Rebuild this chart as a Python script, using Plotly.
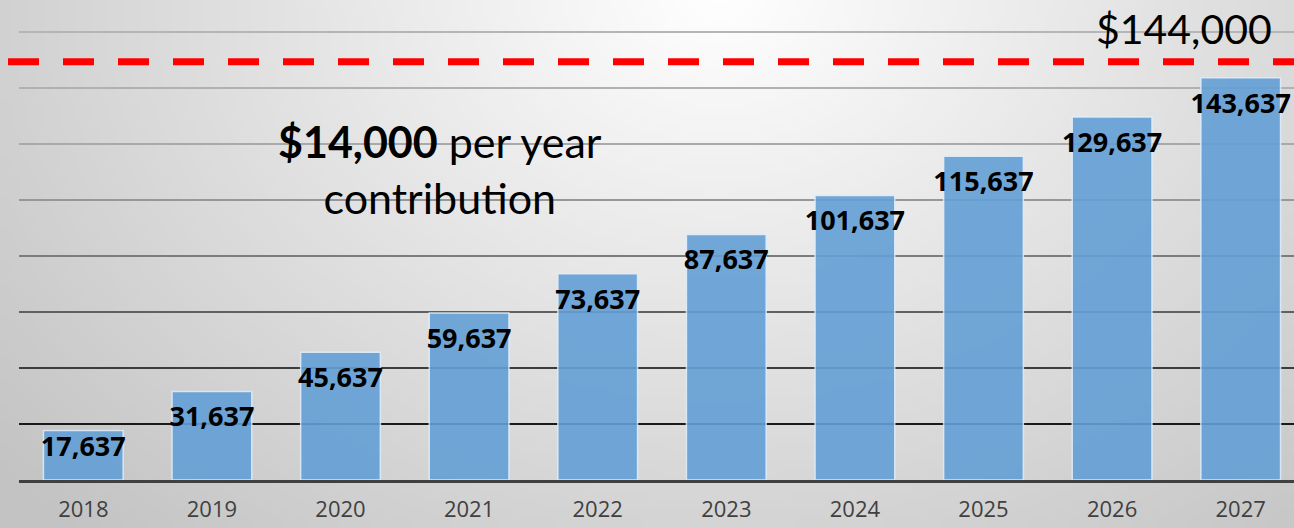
import base64
import math
import struct
import zlib

import plotly.graph_objects as go

# ---------------- data ----------------
years = ["2018", "2019", "2020", "2021", "2022", "2023", "2024", "2025", "2026", "2027"]
balances = [17637, 31637, 45637, 59637, 73637, 87637, 101637, 115637, 129637, 143637]
grid_values = [20000, 40000, 60000, 80000, 100000, 120000, 140000, 160000]
grid_colors = ["#1a1a1a", "#3c3c3c", "#606060", "#7c7c7c", "#979797", "#a9a9a9", "#b1b1b1", "#b5b5b5"]
target_text = "$144,000"
target_line_level = 149400  # where the dashed target line is drawn in the picture
note_text = "<b>$14,000</b> per year<br>contribution"

W, H = 1294, 528
ML, MB = 19, 48
plot_w, plot_h = W - ML, H - MB
y_max = 171429
cat_px = 128.6
x_range = [-0.5, -0.5 + plot_w / cat_px]


# ---------------- background gradient image (radial, light at top centre) ----------------
def gradient_png(w, h, scale):
    rows = bytearray()
    cx, cy = 720.0, 0.0
    for j in range(h):
        rows.append(0)
        for i in range(w):
            x = i * scale + scale / 2
            y = j * scale + scale / 2
            d = math.sqrt((41 * (x - cx) / 650) ** 2 + (43 * (y - cy) / 528) ** 2)
            v = int(max(195, min(255, 255 - d)))
            rows.append(v)
    def chunk(tag, data):
        c = struct.pack(">I", len(data)) + tag + data
        return c + struct.pack(">I", zlib.crc32(tag + data) & 0xFFFFFFFF)
    png = b"\x89PNG\r\n\x1a\n"
    png += chunk(b"IHDR", struct.pack(">IIBBBBB", w, h, 8, 0, 0, 0, 0))
    png += chunk(b"IDAT", zlib.compress(bytes(rows), 9))
    png += chunk(b"IEND", b"")
    return "data:image/png;base64," + base64.b64encode(png).decode()


bg_src = gradient_png(162, 66, 8)

label_y = [max(v - 10000, 11000) for v in balances]
label_text = [f"{v:,}" for v in balances]

fig = go.Figure()
fig.add_trace(go.Bar(
    x=years, y=balances, width=0.62,
    marker=dict(color="rgb(100,160,214)", opacity=0.9,
                line=dict(color="rgba(225,238,252,0.9)", width=1.5)),
    hoverinfo="skip",
))
fig.add_trace(go.Scatter(
    x=years, y=label_y, mode="text", text=label_text,
    textposition="middle center",
    textfont=dict(family="Open Sans", size=27, color="black", weight="bold"),
    cliponaxis=False, hoverinfo="skip",
))

shapes = []
for gv, gc in zip(grid_values, grid_colors):
    shapes.append(dict(type="line", xref="paper", yref="y", x0=0, x1=1, y0=gv, y1=gv,
                       line=dict(color=gc, width=2.2), layer="below"))
shapes.append(dict(type="line", xref="paper", yref="y", x0=-11 / plot_w, x1=1,
                   y0=target_line_level, y1=target_line_level,
                   line=dict(color="#ff0000", width=7, dash="31px,24px"), layer="above"))

fig.update_layout(
    width=W, height=H,
    margin=dict(l=ML, r=0, t=0, b=MB, pad=0, autoexpand=False),
    paper_bgcolor="#d8d8d8",
    plot_bgcolor="rgba(0,0,0,0)",
    showlegend=False,
    images=[dict(source=bg_src, xref="paper", yref="paper",
                 x=-ML / plot_w, y=1, sizex=W / plot_w, sizey=H / plot_h,
                 xanchor="left", yanchor="top", sizing="stretch", layer="below")],
    shapes=shapes,
    xaxis=dict(type="category", range=x_range, showgrid=False, zeroline=False,
               showline=True, linecolor="#404040", linewidth=3, ticks="",
               ticklabelstandoff=8, automargin=False,
               tickfont=dict(family="Open Sans", size=22, color="#404040"),
               fixedrange=True),
    yaxis=dict(range=[0, y_max], showgrid=False, zeroline=False, showticklabels=False,
               showline=False, fixedrange=True, automargin=False),
    annotations=[
        dict(text=target_text, xref="paper", yref="paper",
             x=(1274 - ML) / plot_w, y=(plot_h - 28) / plot_h, xanchor="right", yanchor="middle",
             showarrow=False, font=dict(family="Lato", size=41, color="black")),
        dict(text=note_text, xref="paper", yref="paper",
             x=(440 - ML) / plot_w, y=(plot_h - 170) / plot_h, xanchor="center", yanchor="middle",
             showarrow=False, align="center",
             font=dict(family="Lato", size=43, color="black")),
    ],
)

fig.write_html("out.html", config={"displayModeBar": False, "staticPlot": True})
